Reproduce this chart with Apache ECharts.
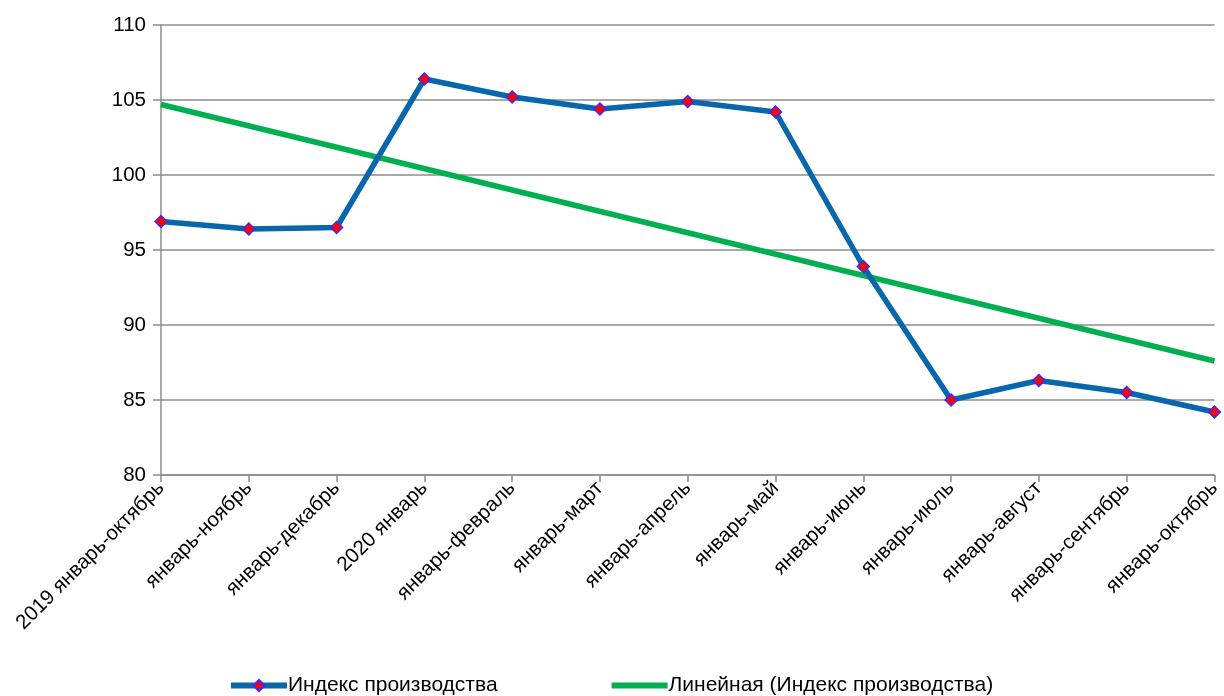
<!DOCTYPE html>
<html><head><meta charset="utf-8">
<script src="https://cdn.jsdelivr.net/npm/echarts@6/dist/echarts.min.js"></script>
<style>html,body{margin:0;padding:0;background:#fff}#c{width:1224px;height:696px}</style>
</head><body><div id="c"></div>
<script>
const categories = ['2019 январь-октябрь','январь-ноябрь','январь-декабрь','2020 январь','январь-февраль','январь-март','январь-апрель','январь-май','январь-июнь','январь-июль','январь-август','январь-сентябрь','январь-октябрь'];
const indexValues = [96.9, 96.4, 96.5, 106.4, 105.2, 104.4, 104.9, 104.2, 93.9, 85.0, 86.3, 85.5, 84.2];
const trendValues = [104.7, null, null, null, null, null, null, null, null, null, null, null, 87.6];
const seriesNames = ['Индекс производства', 'Линейная (Индекс производства)'];
const yTicks = {min: 80, max: 110, interval: 5};

const chart = echarts.init(document.getElementById('c'));
const font = '"Liberation Sans", Arial, sans-serif';
chart.setOption({
  animation: false,
  grid: {left: 161, right: 6, top: 25, bottom: 221},
  legend: {
    bottom: 0, left: 228, padding: 0, itemGap: 111, itemWidth: 56, itemHeight: 14,
    textStyle: {fontFamily: font, fontSize: 21, color: '#000', padding: [0,0,0,-4]},
    lineStyle: {width: 6},
    data: [
      {name: seriesNames[0]},
      {name: seriesNames[1], itemStyle: {opacity: 0}}
    ]
  },
  xAxis: {
    type: 'category', data: categories, boundaryGap: false,
    axisLine: {lineStyle: {color: '#8c8c8c', width: 1.5}},
    axisTick: {alignWithLabel: true, length: 7, lineStyle: {color: '#8c8c8c', width: 1.5}},
    axisLabel: {rotate: 45, interval: 0, fontFamily: font, fontSize: 20.5, color: '#000', margin: 10},
    splitLine: {show: false}
  },
  yAxis: {
    type: 'value', min: yTicks.min, max: yTicks.max, interval: yTicks.interval,
    axisLine: {show: true, lineStyle: {color: '#8c8c8c', width: 1.5}},
    axisTick: {show: true, length: 8, lineStyle: {color: '#8c8c8c', width: 1.5}},
    axisLabel: {fontFamily: font, fontSize: 20.5, color: '#000', margin: 15},
    splitLine: {lineStyle: {color: '#8c8c8c', width: 1.5}}
  },
  series: [
    {
      name: seriesNames[0], type: 'line', data: indexValues,
      symbol: 'diamond', symbolSize: 12,
      lineStyle: {color: '#0867ab', width: 5.5},
      itemStyle: {color: '#ff0000', borderColor: '#3a2bff', borderWidth: 1.5},
      z: 3
    },
    {
      name: seriesNames[1], type: 'line', data: trendValues, connectNulls: true,
      symbol: 'none', showSymbol: false,
      lineStyle: {color: '#00b050', width: 5.5},
      itemStyle: {color: '#00b050'},
      z: 2
    }
  ]
});
</script></body></html>
